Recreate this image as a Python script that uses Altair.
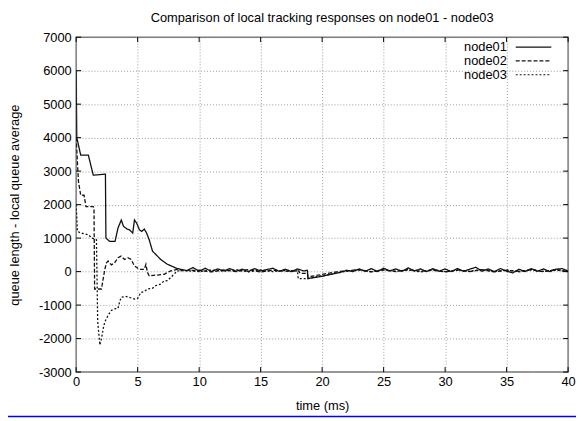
import altair as alt
import pandas as pd

series = ["node01", "node02", "node03"]
x_ticks = [0, 5, 10, 15, 20, 25, 30, 35, 40]
y_ticks = [-3000, -2000, -1000, 0, 1000, 2000, 3000, 4000, 5000, 6000, 7000]

t01 = [0.0, 0.05, 0.37, 0.99, 1.39, 2.38, 2.42, 2.73, 3.16, 3.4, 3.67, 3.85, 4.15, 4.33, 4.6,
       4.74, 4.92, 5.14, 5.33, 5.54, 5.73, 5.94, 6.21, 6.48, 6.88, 7.41, 8.22, 8.6, 9.0, 9.5,
       10.0, 10.5, 11.0, 11.5, 12.0, 12.5, 13.0, 13.5, 14.0, 14.5, 15.0, 15.5, 16.0, 16.5, 17.0,
       17.5, 18.0, 18.5, 18.8, 18.85, 19.5, 20.0, 20.5, 21.0, 21.5, 22.0, 22.5, 23.0, 23.5, 24.0,
       24.5, 25.0, 25.5, 26.0, 26.5, 27.0, 27.5, 28.0, 28.5, 29.0, 29.5, 30.0, 30.5, 31.0, 31.5,
       32.0, 32.5, 33.0, 33.5, 34.0, 34.5, 35.0, 35.5, 36.0, 36.5, 37.0, 37.5, 38.0, 38.5, 39.0,
       39.5, 40.0]
v01 = [6000, 4000, 3480, 3480, 2880, 2910, 1000, 900, 900, 1300, 1540, 1350, 1270, 1250, 1150,
       1540, 1450, 1250, 1200, 1270, 1150, 950, 610, 510, 360, 220, 90, 60, 30, 120,
       10, 100, 0, 80, 20, 90, 10, 70, 0, 90, 20, 60, 100, 10, 70,
       0, 80, 20, 40, -210, -170, -140, -100, -60, -20, 40, 0, 80, 10, 90,
       0, 100, 20, 80, 10, 110, 20, 80, 0, 90, 10, 80, 0, 90, 10,
       70, 130, 10, 80, 0, 90, 10, -40, 70, 0, 90, 10, 80, 0, 70,
       90, 20]

t02 = [0.0, 0.1, 0.19, 0.37, 0.64, 0.8, 1.39, 1.45, 1.5, 2.06, 2.19, 2.33, 2.47, 2.6, 2.86,
       3.13, 3.4, 3.66, 3.93, 4.2, 4.47, 4.74, 5.14, 5.54, 5.67, 5.8, 5.94, 7.15, 7.68, 8.22,
       8.8, 10.0, 11.0, 12.0, 13.0, 14.0, 15.0, 16.0, 17.0, 18.1, 18.2, 18.8, 18.85, 21.3, 22.0,
       23.0, 24.0, 25.0, 26.0, 27.0, 28.0, 29.0, 30.0, 31.0, 32.0, 33.0, 34.0, 35.0, 36.0, 37.0,
       38.0, 39.0, 40.0]
v02 = [4000, 3270, 2680, 2280, 2280, 1940, 1940, 1900, -520, -520, -230, 70, 265, 315, 200,
       265, 413, 462, 364, 413, 364, 167, 69, 69, 216, -30, -128, -80, 20, 69,
       30, 40, -10, 50, 0, 60, -10, 40, 10, 20, -50, -50, -160, 0, 20,
       60, -10, 50, 0, 60, 10, 40, -10, 50, 0, 60, -10, 40, 10, 50,
       0, 60, 10]

t03 = [0.0, 0.1, 0.4, 1.0, 1.26, 1.5, 1.65, 1.75, 1.93, 2.06, 2.2, 2.33, 2.47, 2.6, 2.86,
       3.13, 3.4, 3.53, 3.66, 4.0, 4.33, 4.74, 5.0, 5.27, 5.54, 5.8, 6.2, 6.48, 6.88, 7.15,
       7.41, 7.68, 7.95, 8.22, 8.8, 10.0, 11.0, 12.0, 13.0, 14.0, 15.0, 16.0, 17.0, 18.0, 18.05,
       18.8, 21.8, 23.0, 24.0, 25.0, 26.0, 27.0, 28.0, 29.0, 30.0, 31.0, 32.0, 33.0, 34.0, 35.0,
       36.0, 37.0, 38.0, 39.0, 40.0]
v03 = [2000, 1200, 1150, 1100, 1000, 980, 950, -1500, -2190, -2000, -1700, -1500, -1400, -1300, -1160,
       -1110, -1100, -910, -770, -740, -770, -820, -800, -620, -600, -520, -500, -420, -370, -280,
       -270, -180, -80, 20, 30, 0, 50, 10, 60, -10, 50, 0, 40, 20, -210,
       -210, 0, 50, 0, 60, 10, 50, -10, 60, 0, 40, 10, 60, 0, 50,
       -10, 60, 10, 40, 0]

rows = []
for name, ts, vs in zip(series, [t01, t02, t03], [v01, v02, v03]):
    for i, (t, v) in enumerate(zip(ts, vs)):
        rows.append({"series": name, "t": t, "v": v, "i": i})
df = pd.DataFrame(rows)

W, H = 498, 339
FONT = "Liberation Sans"
dashes = [[1, 0], [4, 2], [2, 2]]

xs = alt.Scale(domain=[0, 40], nice=False, zero=False)
ys = alt.Scale(domain=[-3000, 7000], nice=False, zero=False)

xaxis = alt.Axis(values=x_ticks, title="time (ms)", grid=True, gridDash=[1, 2],
                 gridColor="#999999", gridOpacity=1, ticks=False, domain=False,
                 labelPadding=4, labelFontSize=13, titleFontSize=13,
                 titleFontWeight="normal", titlePadding=11, labelColor="black",
                 titleColor="black", labelFlush=False, labelOverlap=False,
                 labelExpr="'' + datum.value", labelFont=FONT, titleFont=FONT)
yaxis = alt.Axis(values=y_ticks, title="queue length - local queue average", grid=True,
                 gridDash=[1, 2], gridColor="#999999", gridOpacity=1, ticks=False,
                 domain=False, labelPadding=5, labelFontSize=13, titleFontSize=13,
                 titleFontWeight="normal", titlePadding=17, labelColor="black",
                 titleColor="black", labelFlush=False, labelOverlap=False,
                 labelExpr="'' + datum.value", labelFont=FONT, titleFont=FONT)

X = alt.X("t:Q", scale=xs, axis=xaxis)
Y = alt.Y("v:Q", scale=ys, axis=yaxis)

lines = alt.Chart(df).mark_line(strokeWidth=1.3, color="#111111", clip=True).encode(
    x=X, y=Y,
    strokeDash=alt.StrokeDash("series:N", scale=alt.Scale(domain=series, range=dashes), legend=None),
    order=alt.Order("i:Q"),
)

xt = pd.DataFrame({"t": x_ticks})
yt = pd.DataFrame({"v": y_ticks})
tick_b = alt.Chart(xt).mark_rule(color="black", strokeWidth=1).encode(x=X, y=alt.value(H), y2=alt.value(H - 5))
tick_t = alt.Chart(xt).mark_rule(color="black", strokeWidth=1).encode(x=X, y=alt.value(0), y2=alt.value(5))
tick_l = alt.Chart(yt).mark_rule(color="black", strokeWidth=1).encode(y=Y, x=alt.value(0), x2=alt.value(5))
tick_r = alt.Chart(yt).mark_rule(color="black", strokeWidth=1).encode(y=Y, x=alt.value(W), x2=alt.value(W - 5))

legend_layers = []
for k, name in enumerate(series):
    ld = pd.DataFrame({"series": [name]})
    legend_layers.append(
        alt.Chart(ld).mark_text(align="right", baseline="middle", fontSize=13, font=FONT, color="black").encode(
            text="series:N", x=alt.value(436), y=alt.value(10 + 14 * k))
    )
    legend_layers.append(
        alt.Chart(ld).mark_rule(color="#111111", strokeWidth=1.2, strokeDash=dashes[k]).encode(
            x=alt.value(445), x2=alt.value(481), y=alt.value(10 + 14 * k))
    )

blue = alt.Chart(pd.DataFrame({"a": [0]})).mark_rule(color="#0000ff", strokeWidth=1.5, clip=False).encode(
    x=alt.value(-72), x2=alt.value(507), y=alt.value(384))

chart = alt.layer(lines, tick_b, tick_t, tick_l, tick_r, *legend_layers, blue).properties(
    width=W, height=H,
    title=alt.Title("Comparison of local tracking responses on node01 - node03", fontSize=13,
                    fontWeight="normal", font=FONT, color="black", offset=6, anchor="middle"),
    autosize=alt.AutoSizeParams(type="none"),
    padding={"left": 69, "top": 27, "right": 8, "bottom": 47},
).configure(font=FONT).configure_view(stroke="#777777", strokeWidth=1.5)

chart.save("out.html", embed_options={"renderer": "svg", "actions": False})
